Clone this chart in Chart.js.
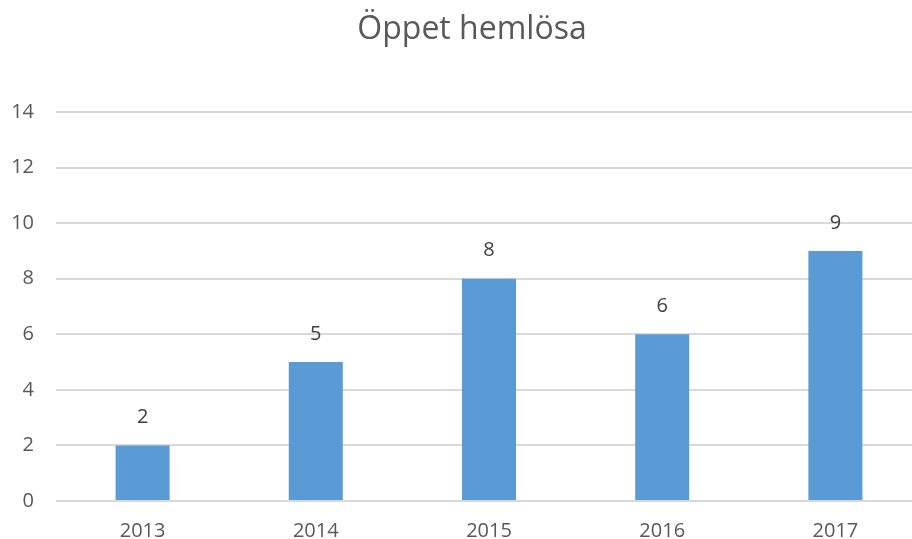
<!DOCTYPE html>
<html>
<head>
<meta charset="utf-8">
<script src="https://cdn.jsdelivr.net/npm/chart.js@4"></script>
<style>
  body { margin: 0; background: #fff; }
  #wrap { width: 912px; height: 539px; overflow: hidden; }
</style>
</head>
<body>
<div id="wrap"><canvas id="chart" width="922" height="561" style="width:922px;height:561px"></canvas></div>
<script>
const years = ['2013', '2014', '2015', '2016', '2017'];
const antal = [2, 5, 8, 6, 9];
const yTicks = [0, 2, 4, 6, 8, 10, 12, 14];
const chartTitle = 'Öppet hemlösa';

// title and labels above the bars
const textPlugin = {
    id: 'textPlugin',
    afterDatasetsDraw(chart) {
        const ctx = chart.ctx;
        ctx.save();
        ctx.textAlign = 'center';
        ctx.textBaseline = 'middle';
        ctx.font = '32px "Open Sans"';
        ctx.fillStyle = '#595959';
        ctx.fillText(chartTitle, 472, 30);
        ctx.font = '20px "Open Sans"';
        ctx.fillStyle = '#404040';
        chart.getDatasetMeta(0).data.forEach((bar, i) => {
            ctx.fillText(antal[i], bar.x, bar.y - 28);
        });
        ctx.restore();
    }
};

new Chart(document.getElementById('chart').getContext('2d'), {
    type: 'bar',
    data: {
        labels: years,
        datasets: [{
            label: chartTitle,
            data: antal,
            backgroundColor: '#5B9BD5',
            barPercentage: 1,
            categoryPercentage: 0.312
        }]
    },
    options: {
        responsive: false,
        animation: false,
        layout: { padding: { left: 0, right: 0, top: 112, bottom: 0 } },
        plugins: {
            legend: { display: false },
            tooltip: { enabled: false },
            title: { display: false }
        },
        scales: {
            x: {
                grid: { display: false, drawTicks: false },
                border: { display: false },
                ticks: { color: '#595959', font: { family: 'Open Sans', size: 20 }, padding: 18 }
            },
            y: {
                min: 0,
                max: 14,
                afterBuildTicks(scale) { scale.ticks = yTicks.map(v => ({ value: v })); },
                afterFit(scale) { scale.width = 56; },
                grid: { color: '#d9d9d9', lineWidth: 2, drawTicks: false },
                border: { display: false },
                ticks: { color: '#595959', font: { family: 'Open Sans', size: 20 }, padding: 22 }
            }
        }
    },
    plugins: [textPlugin]
});
</script>
</body>
</html>
